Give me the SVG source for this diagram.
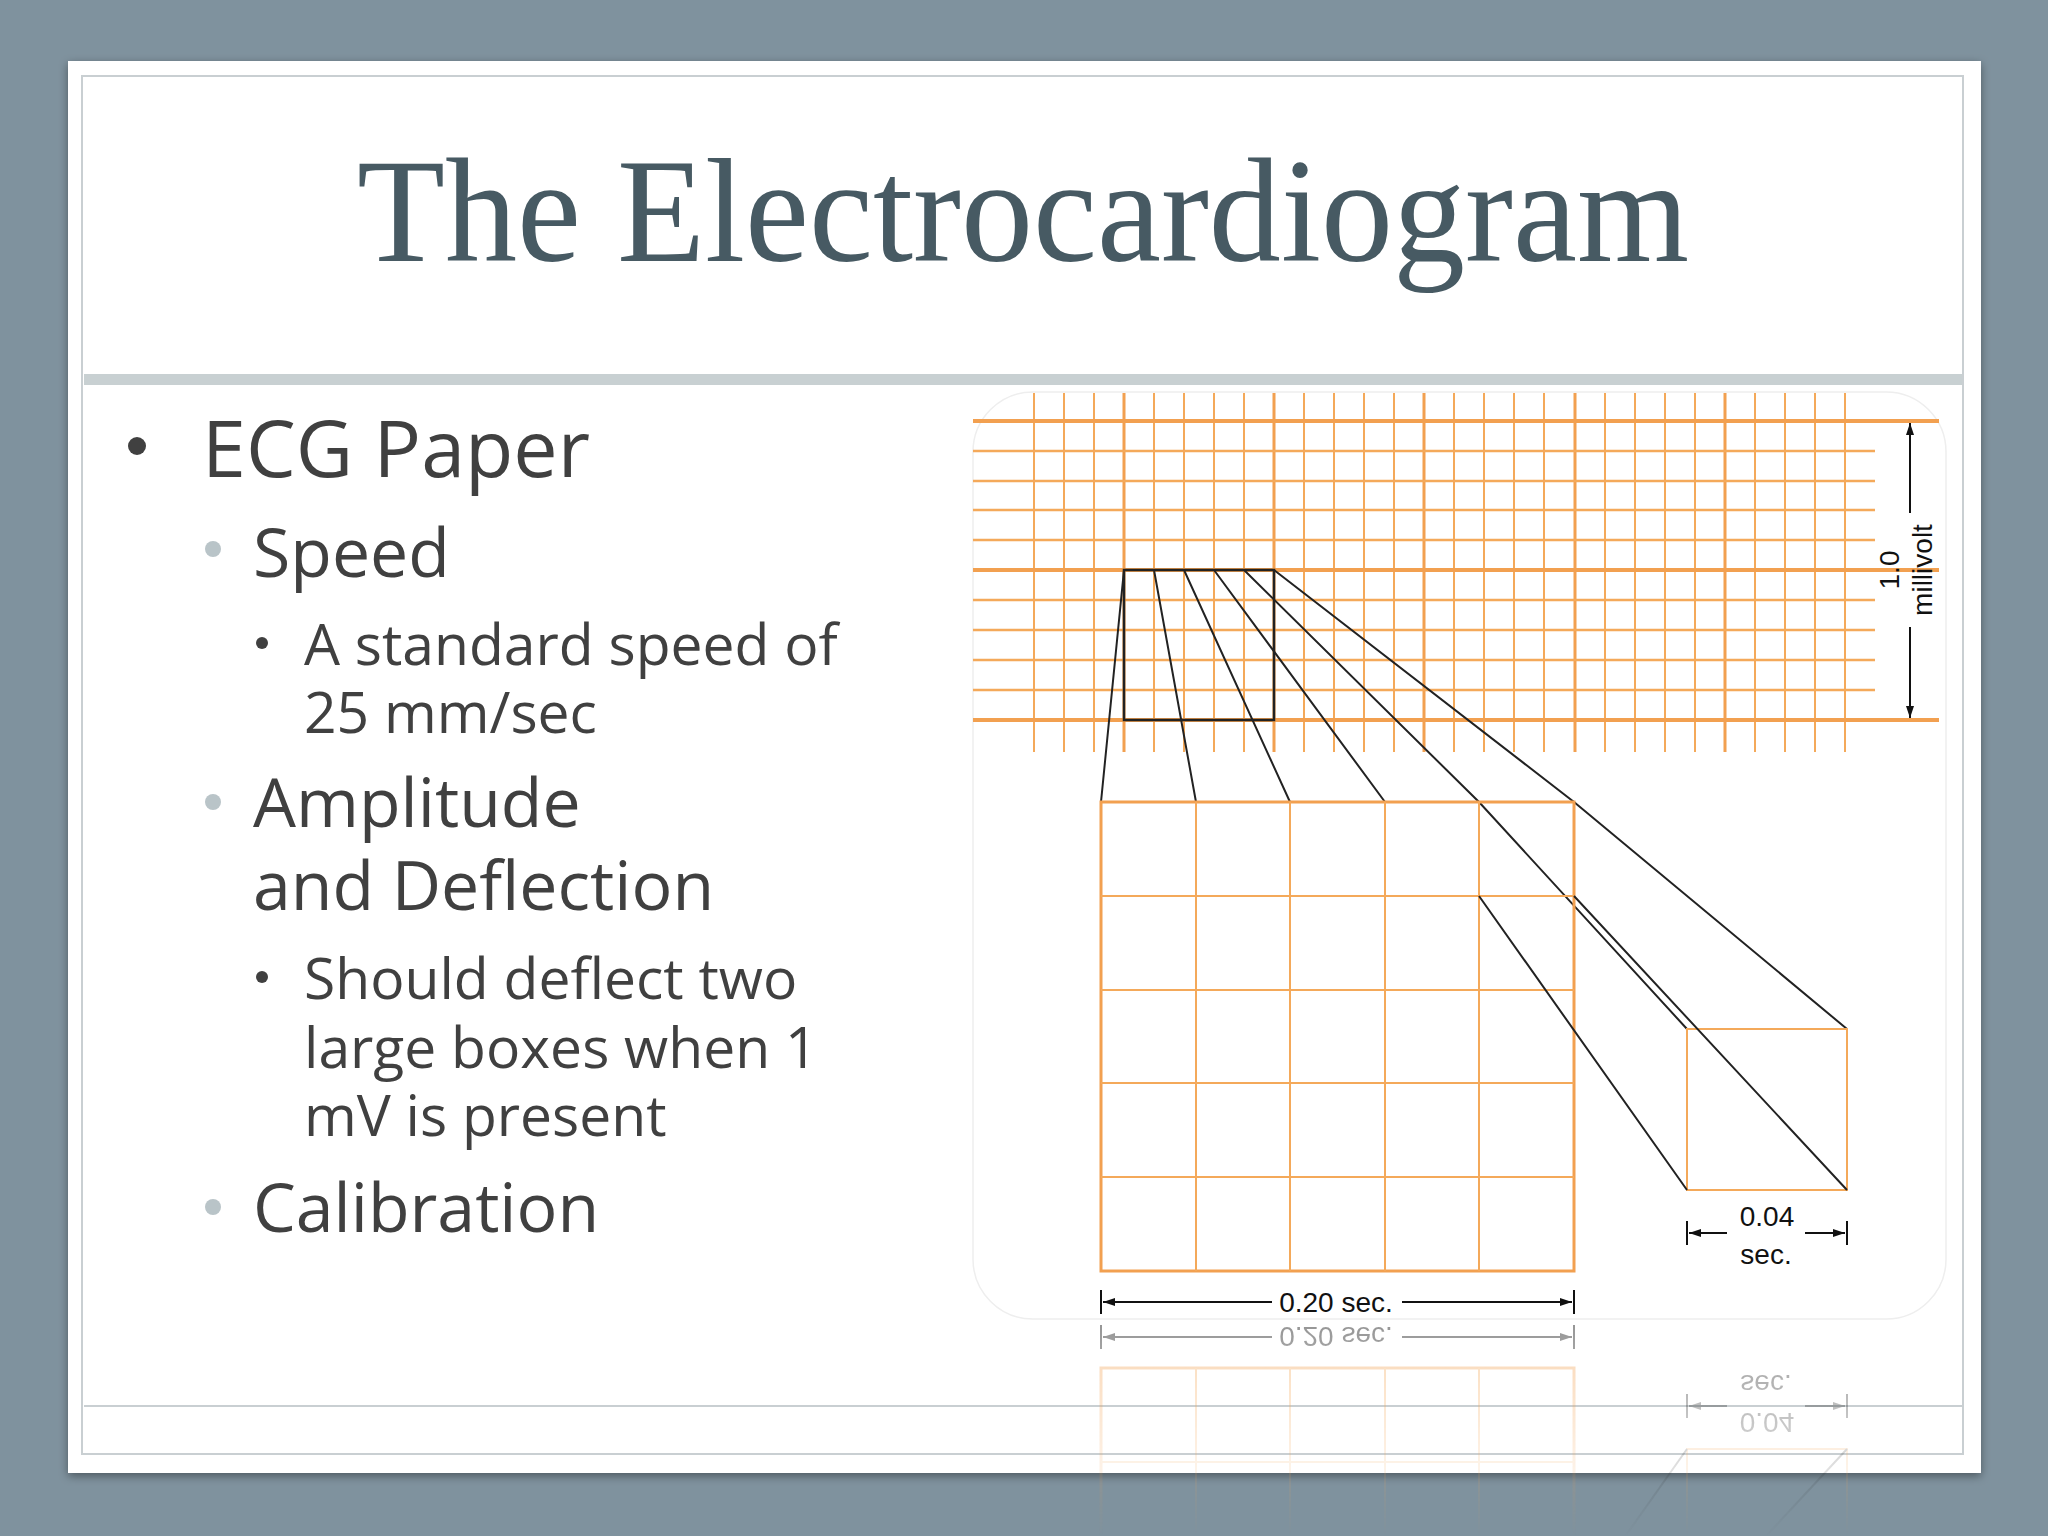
<svg xmlns="http://www.w3.org/2000/svg" width="2048" height="1536" viewBox="0 0 2048 1536">
<style>
.body{font-family:"Open Sans","Noto Sans",sans-serif;fill:#404040}
.g{stroke:#f4a95a;stroke-width:2;fill:none}
.gt{stroke:#f2a050;stroke-width:4;fill:none}
.bl{stroke:#222;stroke-width:2;fill:none}
.lbl{font-family:"Liberation Sans",Arial,sans-serif;fill:#111;font-size:28px}
</style>
<defs>
<marker id="ah" markerWidth="12" markerHeight="8" refX="12" refY="4" orient="auto" markerUnits="userSpaceOnUse"><path d="M0,0 L12,4 L0,8 Z" fill="#111"/></marker>
<linearGradient id="fade" x1="0" y1="0" x2="0" y2="1"><stop offset="0" stop-color="#fff" stop-opacity="0.45"/><stop offset="1" stop-color="#fff" stop-opacity="0"/></linearGradient>
<mask id="m"><rect x="960" y="1320" width="1000" height="216" fill="url(#fade)"/></mask>
<filter id="sh" x="-5%" y="-5%" width="110%" height="110%"><feDropShadow dx="0" dy="3" stdDeviation="5" flood-color="#000" flood-opacity="0.4"/></filter>
<g id="art">
<rect x="1101" y="802" width="473" height="469" class="gt" style="stroke-width:3"/>
<path class="g" d="M1196,802V1271M1290,802V1271M1385,802V1271M1479,802V1271M1101,896H1574M1101,990H1574M1101,1083H1574M1101,1177H1574"/>
<rect x="1687" y="1029" width="160" height="161" class="g"/>
<path class="bl" d="M1479,896L1687,1190M1574,896L1847,1190"/>
<path d="M1101,1290V1314M1574,1290V1314M1687,1221V1245M1847,1221V1245" stroke="#111" stroke-width="2"/>
<line x1="1272" y1="1302" x2="1103" y2="1302" stroke="#111" stroke-width="2" marker-end="url(#ah)"/>
<line x1="1402" y1="1302" x2="1572" y2="1302" stroke="#111" stroke-width="2" marker-end="url(#ah)"/>
<text x="1336" y="1312" text-anchor="middle" class="lbl">0.20 sec.</text>
<line x1="1727" y1="1233" x2="1689" y2="1233" stroke="#111" stroke-width="2" marker-end="url(#ah)"/>
<line x1="1805" y1="1233" x2="1845" y2="1233" stroke="#111" stroke-width="2" marker-end="url(#ah)"/>
<text x="1767" y="1226" text-anchor="middle" class="lbl">0.04</text>
<text x="1766" y="1264" text-anchor="middle" class="lbl">sec.</text>
</g>
</defs>
<rect width="2048" height="1536" fill="#7f929e"/>
<rect x="68" y="61" width="1913" height="1412" fill="#fff" filter="url(#sh)"/>
<rect x="82" y="76" width="1881" height="1378" fill="none" stroke="#c9cfd2" stroke-width="2"/>
<rect x="84" y="374" width="1878" height="11" fill="#c8d0d2"/>
<line x1="84" y1="1406" x2="1962" y2="1406" stroke="#c9cfd2" stroke-width="2"/>
<text x="1023" y="261" text-anchor="middle" font-family="'Liberation Serif','DejaVu Serif',serif" font-size="148" fill="#475a63" textLength="1332" lengthAdjust="spacingAndGlyphs">The Electrocardiogram</text>

<g id="bullets">
<circle cx="137" cy="446" r="9" fill="#404040"/>
<text x="202" y="477" class="body" font-size="79">ECG Paper</text>
<circle cx="213" cy="549" r="8" fill="#b9c4c8"/>
<text x="253" y="577" class="body" font-size="68">Speed</text>
<circle cx="262" cy="643" r="6" fill="#404040"/>
<text x="304" y="665" class="body" font-size="57">A standard speed of</text>
<text x="304" y="733" class="body" font-size="57">25 mm/sec</text>
<circle cx="213" cy="802" r="8" fill="#b9c4c8"/>
<text x="253" y="827" class="body" font-size="68">Amplitude</text>
<text x="253" y="910" class="body" font-size="68">and Deflection</text>
<circle cx="262" cy="977" r="6" fill="#404040"/>
<text x="304" y="999" class="body" font-size="57">Should deflect two</text>
<text x="304" y="1068" class="body" font-size="57">large boxes when 1</text>
<text x="304" y="1136" class="body" font-size="57">mV is present</text>
<circle cx="213" cy="1207" r="8" fill="#b9c4c8"/>
<text x="253" y="1232" class="body" font-size="68">Calibration</text>
</g>

<g id="ecg">
<rect x="973" y="392" width="973" height="927" rx="60" fill="#fff" stroke="#eee" stroke-width="1.5"/>
<g id="grid">
<path class="g" d="M1034,393V752M1064,393V752M1094,393V752M1154,393V752M1184,393V752M1214,393V752M1244,393V752M1304,393V752M1334,393V752M1364,393V752M1394,393V752M1454,393V752M1484,393V752M1514,393V752M1544,393V752M1605,393V752M1635,393V752M1665,393V752M1695,393V752M1755,393V752M1785,393V752M1815,393V752M1845,393V752"/>
<path class="gt" style="stroke-width:3" d="M1124,393V752M1274,393V752M1424,393V752M1575,393V752M1725,393V752"/>
<path class="g" style="stroke-width:2.5" d="M973,451H1875M973,481H1875M973,510H1875M973,540H1875M973,600H1875M973,630H1875M973,660H1875M973,690H1875"/>
<path class="gt" d="M973,421H1939M973,570H1939M973,720H1939"/>
</g>
<rect x="1124" y="570" width="150" height="150" class="bl" style="stroke-width:2.5"/>
<path class="bl" d="M1124,570L1101,802M1154,570L1196,802M1184,570L1290,802M1214,570L1385,802M1244,570L1479,802L1687,1029M1274,570L1574,802L1847,1029"/>
<line x1="1910" y1="513" x2="1910" y2="423" stroke="#111" stroke-width="2" marker-end="url(#ah)"/>
<line x1="1910" y1="627" x2="1910" y2="718" stroke="#111" stroke-width="2" marker-end="url(#ah)"/>
<text transform="translate(1899,570) rotate(-90)" text-anchor="middle" class="lbl">1.0</text>
<text transform="translate(1932,570) rotate(-90)" text-anchor="middle" class="lbl">millivolt</text>
<use href="#art"/>
</g>
<g id="reflection" mask="url(#m)">
<use href="#art" transform="translate(0,2639) scale(1,-1)"/>
</g>
</svg>
